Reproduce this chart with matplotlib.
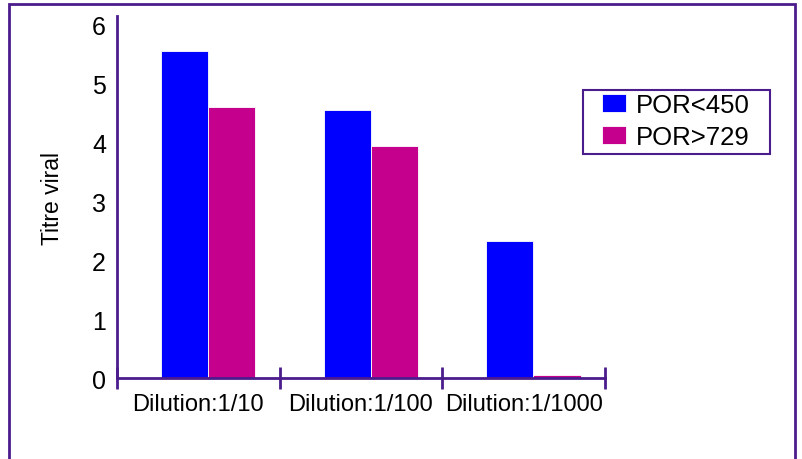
import matplotlib.pyplot as plt
from matplotlib.patches import Rectangle

plt.rcParams['font.family'] = ['Liberation Sans', 'DejaVu Sans']

categories = ['Dilution:1/10', 'Dilution:1/100', 'Dilution:1/1000']
por_low = [5.55, 4.55, 2.32]     # POR<450
por_high = [4.6, 3.93, 0.05]     # POR>729
series_names = ['POR<450', 'POR>729']

purple = '#4B1C8C'
blue = '#0000FF'
pink = '#C4008C'

fig = plt.figure(figsize=(8.03, 4.6), dpi=100)
ax = fig.add_axes([0.1457, 0.176, 0.6077, 0.787])

x = range(len(categories))
w = 0.29
ax.bar([i - 0.23 for i in x], por_low, width=w, align='edge', color=blue,
       edgecolor='white', linewidth=0.6, label=series_names[0])
ax.bar([i - 0.23 + w for i in x], por_high, width=w, align='edge', color=pink,
       edgecolor='white', linewidth=0.6, label=series_names[1])

ax.set_xlim(-0.5, 2.5)
ax.set_ylim(0, 6.14)

for s in ['top', 'right']:
    ax.spines[s].set_visible(False)
for s in ['left', 'bottom']:
    ax.spines[s].set_color(purple)
    ax.spines[s].set_linewidth(2)

# x ticks at category boundaries, labels centred in each category
ax.set_xticks([-0.5, 0.5, 1.5, 2.5])
ax.set_xticklabels([])
ax.set_xticks([0, 1, 2], minor=True)
ax.set_xticklabels(categories, minor=True, fontsize=17)
ax.tick_params(axis='x', which='major', direction='inout', length=16,
               width=2, color=purple)
ax.tick_params(axis='x', which='minor', length=0, pad=11)

ax.set_yticks(range(7))
ax.tick_params(axis='y', length=0, labelsize=18, pad=8)

ax.set_ylabel('Titre viral', fontsize=16.5, labelpad=20)

leg = fig.legend(loc='upper left', bbox_to_anchor=(602 / 803, 1 - 94 / 460),
                 bbox_transform=fig.transFigure, fontsize=18.5, frameon=False,
                 borderpad=0, borderaxespad=0, handlelength=0.95,
                 handleheight=0.7, handletextpad=0.35, labelspacing=0.32)

# legend box
fig.patches.append(Rectangle((583 / 803, 1 - 155 / 460), 187 / 803, 64 / 460,
                             transform=fig.transFigure, fill=False,
                             edgecolor=purple, linewidth=1.5))

# outer frame around the figure
fig.patches.append(Rectangle((9 / 803, -0.2), 786 / 803, 1.2 - 5 / 460,
                             transform=fig.transFigure, fill=False,
                             edgecolor=purple, linewidth=2, clip_on=False))

plt.savefig('out.png', dpi=100)
